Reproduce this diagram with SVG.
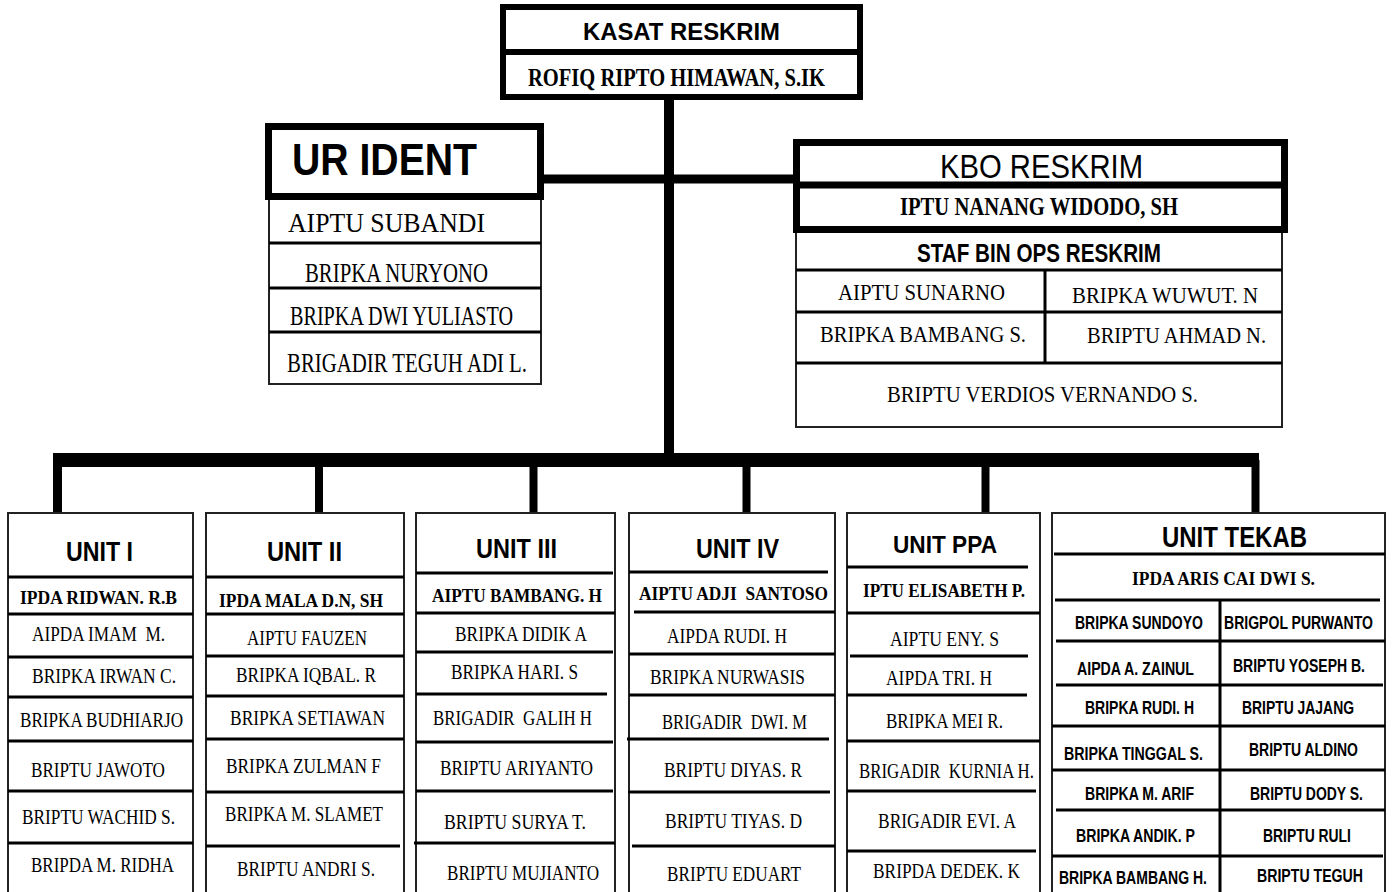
<svg xmlns="http://www.w3.org/2000/svg" width="1392" height="892" viewBox="0 0 1392 892">
<style>
text{white-space:pre;fill:#000}
.hb{font-family:"Liberation Sans",Arial,sans-serif;font-weight:bold}
.ar{font-family:"Liberation Sans",Arial,sans-serif}
.tr{font-family:"Liberation Serif","Times New Roman",serif}
.tb{font-family:"Liberation Serif","Times New Roman",serif;font-weight:bold}
.thick{fill:#fff;stroke:#000;stroke-width:7}
.box{fill:#fff;stroke:#222;stroke-width:2}
.dv{stroke:#000;stroke-width:3;fill:none}
.tdv{stroke:#000;stroke-width:7;fill:none}
.cn{stroke:#000;fill:none}
</style>
<rect x="0" y="0" width="1392" height="892" fill="#fff"/>

<g id="connectors">
<line class="cn" x1="544" y1="179" x2="793" y2="179" stroke-width="9"/>
<line class="cn" x1="669" y1="98" x2="669" y2="460" stroke-width="10"/>
<rect x="53" y="453" width="1206" height="14" fill="#000"/>
<line class="cn" x1="57.5" y1="460" x2="57.5" y2="513" stroke-width="9"/>
<line class="cn" x1="319" y1="460" x2="319" y2="513" stroke-width="8"/>
<line class="cn" x1="533.5" y1="460" x2="533.5" y2="513" stroke-width="8"/>
<line class="cn" x1="746.5" y1="460" x2="746.5" y2="513" stroke-width="8"/>
<line class="cn" x1="985.5" y1="460" x2="985.5" y2="513" stroke-width="8"/>
<line class="cn" x1="1255.5" y1="460" x2="1255.5" y2="513" stroke-width="8"/>
</g>

<g id="kasat">
<rect x="503" y="7" width="357" height="90" fill="#fff" stroke="#000" stroke-width="6"/>
<line x1="503" y1="52" x2="860" y2="52" stroke="#000" stroke-width="6"/>
<text class="hb" x="583" y="40" font-size="24" textLength="197" lengthAdjust="spacingAndGlyphs">KASAT RESKRIM</text>
<text class="tb" x="528" y="86" font-size="26" textLength="297" lengthAdjust="spacingAndGlyphs">ROFIQ RIPTO HIMAWAN, S.IK</text>
</g>

<g id="ur-ident">
<rect class="box" x="269" y="199" width="272" height="185"/>
<line class="dv" x1="269" y1="243" x2="541" y2="243"/>
<line class="dv" x1="269" y1="288" x2="541" y2="288"/>
<line class="dv" x1="269" y1="332" x2="541" y2="332"/>
<rect class="thick" x="268.5" y="126.5" width="272" height="70"/>
<text class="hb" x="292" y="175" font-size="44" textLength="185" lengthAdjust="spacingAndGlyphs">UR IDENT</text>
<text class="tr" x="288" y="232" font-size="27" textLength="197" lengthAdjust="spacingAndGlyphs">AIPTU SUBANDI</text>
<text class="tr" x="305" y="282" font-size="27" textLength="183" lengthAdjust="spacingAndGlyphs">BRIPKA NURYONO</text>
<text class="tr" x="290" y="325" font-size="27" textLength="223" lengthAdjust="spacingAndGlyphs">BRIPKA DWI YULIASTO</text>
<text class="tr" x="287" y="372" font-size="27" textLength="240" lengthAdjust="spacingAndGlyphs">BRIGADIR TEGUH ADI L.</text>
</g>

<g id="kbo-reskrim">
<rect class="box" x="796" y="232" width="486" height="195"/>
<line class="dv" x1="796" y1="270" x2="1282" y2="270"/>
<line class="dv" x1="796" y1="312" x2="1282" y2="312"/>
<line class="dv" x1="796" y1="363" x2="1282" y2="363"/>
<line class="dv" x1="1045" y1="270" x2="1045" y2="363"/>
<rect class="thick" x="796.5" y="142.5" width="488" height="87"/>
<line class="tdv" x1="796.5" y1="185" x2="1284.5" y2="185"/>
<text class="ar" x="940" y="178" font-size="33" textLength="203" lengthAdjust="spacingAndGlyphs">KBO RESKRIM</text>
<text class="tb" x="900" y="215" font-size="25" textLength="278" lengthAdjust="spacingAndGlyphs">IPTU NANANG WIDODO, SH</text>
<text class="hb" x="917" y="262" font-size="25" textLength="244" lengthAdjust="spacingAndGlyphs">STAF BIN OPS RESKRIM</text>
<text class="tr" x="838" y="300" font-size="24" textLength="167" lengthAdjust="spacingAndGlyphs">AIPTU SUNARNO</text>
<text class="tr" x="1072" y="303" font-size="24" textLength="186" lengthAdjust="spacingAndGlyphs">BRIPKA WUWUT. N</text>
<text class="tr" x="820" y="342" font-size="24" textLength="206" lengthAdjust="spacingAndGlyphs">BRIPKA BAMBANG S.</text>
<text class="tr" x="1087" y="343" font-size="24" textLength="179" lengthAdjust="spacingAndGlyphs">BRIPTU AHMAD N.</text>
<text class="tr" x="887" y="402" font-size="24" textLength="311" lengthAdjust="spacingAndGlyphs">BRIPTU VERDIOS VERNANDO S.</text>
</g>

<g id="unit-1">
<rect class="box" x="8" y="513" width="185" height="390"/>
<line class="dv" x1="8" y1="577" x2="193" y2="577"/>
<line class="dv" x1="8" y1="614" x2="193" y2="614"/>
<line class="dv" x1="8" y1="657" x2="193" y2="657"/>
<line class="dv" x1="8" y1="697" x2="193" y2="697"/>
<line class="dv" x1="8" y1="741" x2="193" y2="741"/>
<line class="dv" x1="8" y1="791" x2="193" y2="791"/>
<line class="dv" x1="8" y1="843" x2="193" y2="843"/>
<text class="hb" x="66" y="561" font-size="28" textLength="67" lengthAdjust="spacingAndGlyphs">UNIT I</text>
<text class="tb" x="20" y="604" font-size="19" textLength="157" lengthAdjust="spacingAndGlyphs">IPDA RIDWAN. R.B</text>
<text class="tr" x="32" y="641" font-size="20" textLength="133" lengthAdjust="spacingAndGlyphs">AIPDA IMAM  M.</text>
<text class="tr" x="32" y="683" font-size="20" textLength="144" lengthAdjust="spacingAndGlyphs">BRIPKA IRWAN C.</text>
<text class="tr" x="20" y="727" font-size="20" textLength="163" lengthAdjust="spacingAndGlyphs">BRIPKA BUDHIARJO</text>
<text class="tr" x="31" y="777" font-size="20" textLength="134" lengthAdjust="spacingAndGlyphs">BRIPTU JAWOTO</text>
<text class="tr" x="22" y="824" font-size="20" textLength="153" lengthAdjust="spacingAndGlyphs">BRIPTU WACHID S.</text>
<text class="tr" x="31" y="872" font-size="20" textLength="143" lengthAdjust="spacingAndGlyphs">BRIPDA M. RIDHA</text>
</g>

<g id="unit-2">
<rect class="box" x="206" y="513" width="198" height="390"/>
<line class="dv" x1="206" y1="577" x2="404" y2="577"/>
<line class="dv" x1="206" y1="614" x2="404" y2="614"/>
<line class="dv" x1="206" y1="656" x2="404" y2="656"/>
<line class="dv" x1="206" y1="696" x2="404" y2="696"/>
<line class="dv" x1="206" y1="739" x2="404" y2="739"/>
<line class="dv" x1="206" y1="792" x2="404" y2="792"/>
<line class="dv" x1="206" y1="846" x2="400" y2="846"/>
<text class="hb" x="267" y="561" font-size="28" textLength="75" lengthAdjust="spacingAndGlyphs">UNIT II</text>
<text class="tb" x="219" y="607" font-size="19" textLength="164" lengthAdjust="spacingAndGlyphs">IPDA MALA D.N, SH</text>
<text class="tr" x="247" y="645" font-size="20" textLength="120" lengthAdjust="spacingAndGlyphs">AIPTU FAUZEN</text>
<text class="tr" x="236" y="682" font-size="20" textLength="140" lengthAdjust="spacingAndGlyphs">BRIPKA IQBAL. R</text>
<text class="tr" x="230" y="725" font-size="20" textLength="155" lengthAdjust="spacingAndGlyphs">BRIPKA SETIAWAN</text>
<text class="tr" x="226" y="773" font-size="20" textLength="155" lengthAdjust="spacingAndGlyphs">BRIPKA ZULMAN F</text>
<text class="tr" x="225" y="821" font-size="20" textLength="158" lengthAdjust="spacingAndGlyphs">BRIPKA M. SLAMET</text>
<text class="tr" x="237" y="876" font-size="20" textLength="138" lengthAdjust="spacingAndGlyphs">BRIPTU ANDRI S.</text>
</g>

<g id="unit-3">
<rect class="box" x="416" y="513" width="199" height="390"/>
<line class="dv" x1="416" y1="573" x2="613" y2="573"/>
<line class="dv" x1="416" y1="613" x2="615" y2="613"/>
<line class="dv" x1="416" y1="652" x2="613" y2="652"/>
<line class="dv" x1="416" y1="694" x2="607" y2="694"/>
<line class="dv" x1="416" y1="742" x2="613" y2="742"/>
<line class="dv" x1="416" y1="791" x2="613" y2="791"/>
<line class="dv" x1="414" y1="843" x2="615" y2="843"/>
<text class="hb" x="476" y="558" font-size="28" textLength="81" lengthAdjust="spacingAndGlyphs">UNIT III</text>
<text class="tb" x="432" y="602" font-size="19" textLength="170" lengthAdjust="spacingAndGlyphs">AIPTU BAMBANG. H</text>
<text class="tr" x="455" y="641" font-size="20" textLength="132" lengthAdjust="spacingAndGlyphs">BRIPKA DIDIK A</text>
<text class="tr" x="451" y="679" font-size="20" textLength="127" lengthAdjust="spacingAndGlyphs">BRIPKA HARI. S</text>
<text class="tr" x="433" y="725" font-size="20" textLength="159" lengthAdjust="spacingAndGlyphs">BRIGADIR  GALIH H</text>
<text class="tr" x="440" y="775" font-size="20" textLength="153" lengthAdjust="spacingAndGlyphs">BRIPTU ARIYANTO</text>
<text class="tr" x="444" y="829" font-size="20" textLength="142" lengthAdjust="spacingAndGlyphs">BRIPTU SURYA T.</text>
<text class="tr" x="447" y="880" font-size="20" textLength="152" lengthAdjust="spacingAndGlyphs">BRIPTU MUJIANTO</text>
</g>

<g id="unit-4">
<rect class="box" x="629" y="513" width="206" height="390"/>
<line class="dv" x1="629" y1="572" x2="828" y2="572"/>
<line class="dv" x1="634" y1="612" x2="835" y2="612"/>
<line class="dv" x1="629" y1="654" x2="835" y2="654"/>
<line class="dv" x1="629" y1="695" x2="835" y2="695"/>
<line class="dv" x1="627" y1="739" x2="829" y2="739"/>
<line class="dv" x1="628" y1="792" x2="830" y2="792"/>
<line class="dv" x1="632" y1="846" x2="835" y2="846"/>
<text class="hb" x="696" y="558" font-size="28" textLength="83" lengthAdjust="spacingAndGlyphs">UNIT IV</text>
<text class="tb" x="639" y="600" font-size="19" textLength="189" lengthAdjust="spacingAndGlyphs">AIPTU ADJI  SANTOSO</text>
<text class="tr" x="667" y="643" font-size="20" textLength="120" lengthAdjust="spacingAndGlyphs">AIPDA RUDI. H</text>
<text class="tr" x="650" y="684" font-size="20" textLength="155" lengthAdjust="spacingAndGlyphs">BRIPKA NURWASIS</text>
<text class="tr" x="662" y="729" font-size="20" textLength="145" lengthAdjust="spacingAndGlyphs">BRIGADIR  DWI. M</text>
<text class="tr" x="664" y="777" font-size="20" textLength="138" lengthAdjust="spacingAndGlyphs">BRIPTU DIYAS. R</text>
<text class="tr" x="665" y="828" font-size="20" textLength="137" lengthAdjust="spacingAndGlyphs">BRIPTU TIYAS. D</text>
<text class="tr" x="667" y="881" font-size="20" textLength="134" lengthAdjust="spacingAndGlyphs">BRIPTU EDUART</text>
</g>

<g id="unit-ppa">
<rect class="box" x="847" y="513" width="193" height="390"/>
<line class="dv" x1="847" y1="567" x2="1028" y2="567"/>
<line class="dv" x1="847" y1="613" x2="1040" y2="613"/>
<line class="dv" x1="850" y1="656" x2="1028" y2="656"/>
<line class="dv" x1="847" y1="695" x2="1027" y2="695"/>
<line class="dv" x1="847" y1="741" x2="1040" y2="741"/>
<line class="dv" x1="847" y1="791" x2="1036" y2="791"/>
<line class="dv" x1="847" y1="851" x2="1036" y2="851"/>
<text class="hb" x="893" y="553" font-size="24" textLength="104" lengthAdjust="spacingAndGlyphs">UNIT PPA</text>
<text class="tb" x="863" y="597" font-size="19" textLength="162" lengthAdjust="spacingAndGlyphs">IPTU ELISABETH P.</text>
<text class="tr" x="890" y="646" font-size="20" textLength="109" lengthAdjust="spacingAndGlyphs">AIPTU ENY. S</text>
<text class="tr" x="886" y="685" font-size="20" textLength="106" lengthAdjust="spacingAndGlyphs">AIPDA TRI. H</text>
<text class="tr" x="886" y="728" font-size="20" textLength="117" lengthAdjust="spacingAndGlyphs">BRIPKA MEI R.</text>
<text class="tr" x="859" y="778" font-size="20" textLength="175" lengthAdjust="spacingAndGlyphs">BRIGADIR  KURNIA H.</text>
<text class="tr" x="878" y="828" font-size="20" textLength="138" lengthAdjust="spacingAndGlyphs">BRIGADIR EVI. A</text>
<text class="tr" x="873" y="878" font-size="20" textLength="147" lengthAdjust="spacingAndGlyphs">BRIPDA DEDEK. K</text>
</g>

<g id="unit-tekab">
<rect class="box" x="1052" y="513" width="333" height="390"/>
<line class="dv" x1="1054" y1="554" x2="1385" y2="554"/>
<line class="dv" x1="1055" y1="600" x2="1380" y2="600"/>
<line class="dv" x1="1056" y1="641" x2="1385" y2="641"/>
<line class="dv" x1="1056" y1="685" x2="1383" y2="685"/>
<line class="dv" x1="1052" y1="726" x2="1385" y2="726"/>
<line class="dv" x1="1052" y1="770" x2="1385" y2="770"/>
<line class="dv" x1="1056" y1="810" x2="1385" y2="810"/>
<line class="dv" x1="1052" y1="856" x2="1383" y2="856"/>
<line class="dv" x1="1220" y1="600" x2="1220" y2="895"/>
<text class="hb" x="1162" y="547" font-size="29" textLength="145" lengthAdjust="spacingAndGlyphs">UNIT TEKAB</text>
<text class="tb" x="1132" y="585" font-size="19" textLength="183" lengthAdjust="spacingAndGlyphs">IPDA ARIS CAI DWI S.</text>
<text class="hb" transform="translate(1075 629) scale(0.73 1)" font-size="19" textLength="175.3" lengthAdjust="spacingAndGlyphs">BRIPKA SUNDOYO</text>
<text class="hb" transform="translate(1224 629) scale(0.73 1)" font-size="19" textLength="204.1" lengthAdjust="spacingAndGlyphs">BRIGPOL PURWANTO</text>
<text class="hb" transform="translate(1077 675) scale(0.73 1)" font-size="19" textLength="160.3" lengthAdjust="spacingAndGlyphs">AIPDA A. ZAINUL</text>
<text class="hb" transform="translate(1233 672) scale(0.73 1)" font-size="19" textLength="180.8" lengthAdjust="spacingAndGlyphs">BRIPTU YOSEPH B.</text>
<text class="hb" transform="translate(1085 714) scale(0.73 1)" font-size="19" textLength="149.3" lengthAdjust="spacingAndGlyphs">BRIPKA RUDI. H</text>
<text class="hb" transform="translate(1242 714) scale(0.73 1)" font-size="19" textLength="153.4" lengthAdjust="spacingAndGlyphs">BRIPTU JAJANG</text>
<text class="hb" transform="translate(1064 760) scale(0.73 1)" font-size="19" textLength="190.4" lengthAdjust="spacingAndGlyphs">BRIPKA TINGGAL S.</text>
<text class="hb" transform="translate(1249 756) scale(0.73 1)" font-size="19" textLength="149.3" lengthAdjust="spacingAndGlyphs">BRIPTU ALDINO</text>
<text class="hb" transform="translate(1085 800) scale(0.73 1)" font-size="19" textLength="149.3" lengthAdjust="spacingAndGlyphs">BRIPKA M. ARIF</text>
<text class="hb" transform="translate(1250 800) scale(0.73 1)" font-size="19" textLength="154.8" lengthAdjust="spacingAndGlyphs">BRIPTU DODY S.</text>
<text class="hb" transform="translate(1076 842) scale(0.73 1)" font-size="19" textLength="163" lengthAdjust="spacingAndGlyphs">BRIPKA ANDIK. P</text>
<text class="hb" transform="translate(1263 842) scale(0.73 1)" font-size="19" textLength="120.5" lengthAdjust="spacingAndGlyphs">BRIPTU RULI</text>
<text class="hb" transform="translate(1059 884) scale(0.73 1)" font-size="19" textLength="202.7" lengthAdjust="spacingAndGlyphs">BRIPKA BAMBANG H.</text>
<text class="hb" transform="translate(1257 882) scale(0.73 1)" font-size="19" textLength="145.2" lengthAdjust="spacingAndGlyphs">BRIPTU TEGUH</text>
</g>
</svg>
